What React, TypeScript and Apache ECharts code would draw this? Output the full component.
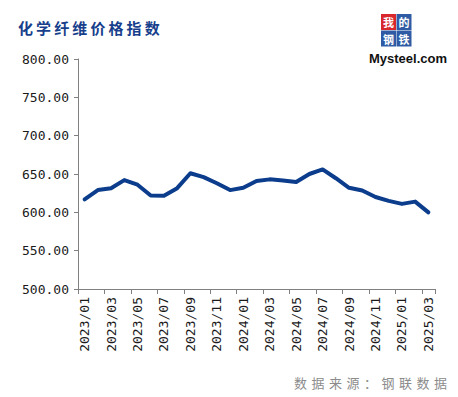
import React, { useEffect, useRef } from "react";
import * as echarts from "echarts";

const categories: string[] = [
  "2023/01", "2023/02", "2023/03", "2023/04", "2023/05", "2023/06", "2023/07", "2023/08", "2023/09",
  "2023/10", "2023/11", "2023/12", "2024/01", "2024/02", "2024/03", "2024/04", "2024/05", "2024/06",
  "2024/07", "2024/08", "2024/09", "2024/10", "2024/11", "2024/12", "2025/01", "2025/02", "2025/03",
];

const values: number[] = [
  617, 629, 631.5, 642, 636, 622, 621.5, 631.5, 651,
  646, 638, 629, 632, 641, 643, 641.5, 639.5, 650,
  656, 644.5, 632, 628.5, 620, 615, 611, 614, 600,
];

const yMin = 500;
const yMax = 800;
const yStep = 50;

const titleText = "化学纤维价格指数";
const sourceText = "数据来源：钢联数据";
const logoChars = ["我", "的", "钢", "铁"];
const logoWord = "Mysteel.com";

export default function App() {
  const ref = useRef<HTMLDivElement>(null);

  useEffect(() => {
    if (!ref.current) return;
    const chart = echarts.init(ref.current, undefined, { renderer: "svg" });

    const graphics: any[] = [];
    titleText.split("").forEach((ch, i) => {
      graphics.push({
        type: "text",
        left: 18 + i * 18.1,
        top: 20,
        style: {
          text: ch,
          fill: "#173f8c",
          font: "bold 15px 'Noto Sans CJK SC'",
        },
      });
    });
    sourceText.split("").forEach((ch, i) => {
      graphics.push({
        type: "text",
        left: 294 + i * 17.5,
        top: 376,
        style: {
          text: ch,
          fill: "#8c8c8c",
          font: "13px 'Noto Sans CJK SC'",
        },
      });
    });
    const logoColors = ["#d8282e", "#2e5ba3", "#2e5ba3", "#2e5ba3"];
    logoChars.forEach((ch, i) => {
      const col = i % 2;
      const row = Math.floor(i / 2);
      graphics.push({
        type: "rect",
        shape: { x: 381 + col * 15.5, y: 14 + row * 16.5, width: 15, height: 16 },
        style: { fill: logoColors[i] },
      });
      graphics.push({
        type: "text",
        x: 381 + col * 15.5 + 7.5,
        y: 14 + row * 16.5 + 8,
        style: {
          text: ch,
          fill: "#ffffff",
          font: "bold 11px 'Noto Sans CJK SC'",
          lineHeight: 13,
          align: "center",
          verticalAlign: "middle",
        },
      });
    });
    graphics.push({
      type: "text",
      left: 369,
      top: 52,
      style: {
        text: logoWord,
        fill: "#111111",
        font: "bold 13px 'Liberation Sans'",
      },
    });

    chart.setOption({
      animation: false,
      backgroundColor: "#ffffff",
      grid: { left: 78, right: 23, top: 59, height: 230, containLabel: false },
      graphic: graphics,
      xAxis: {
        type: "category",
        data: categories,
        boundaryGap: true,
        axisLine: { show: true, lineStyle: { color: "#808080", width: 1 } },
        axisTick: { show: true, interval: 1, length: 5, lineStyle: { color: "#808080" } },
        axisLabel: {
          interval: 1,
          rotate: 90,
          color: "#1a1a1a",
          fontFamily: "DejaVu Sans Mono",
          fontSize: 13,
          margin: 8,
        },
        splitLine: { show: false },
      },
      yAxis: {
        type: "value",
        min: yMin,
        max: yMax,
        interval: yStep,
        axisLine: { show: true, lineStyle: { color: "#808080", width: 1 } },
        axisTick: { show: true, length: 4, lineStyle: { color: "#808080" } },
        axisLabel: {
          color: "#1a1a1a",
          fontFamily: "DejaVu Sans Mono",
          fontSize: 13,
          margin: 9,
          formatter: (v: number) => v.toFixed(2),
        },
        splitLine: { show: false },
      },
      series: [
        {
          type: "line",
          data: values,
          showSymbol: false,
          symbol: "none",
          lineStyle: { color: "#0b3d8c", width: 4, join: "round", cap: "round" },
          itemStyle: { color: "#0b3d8c" },
        },
      ],
    });

    return () => chart.dispose();
  }, []);

  return (
    <div
      ref={ref}
      style={{ position: "fixed", left: 0, top: 0, width: 458, height: 397 }}
    />
  );
}
